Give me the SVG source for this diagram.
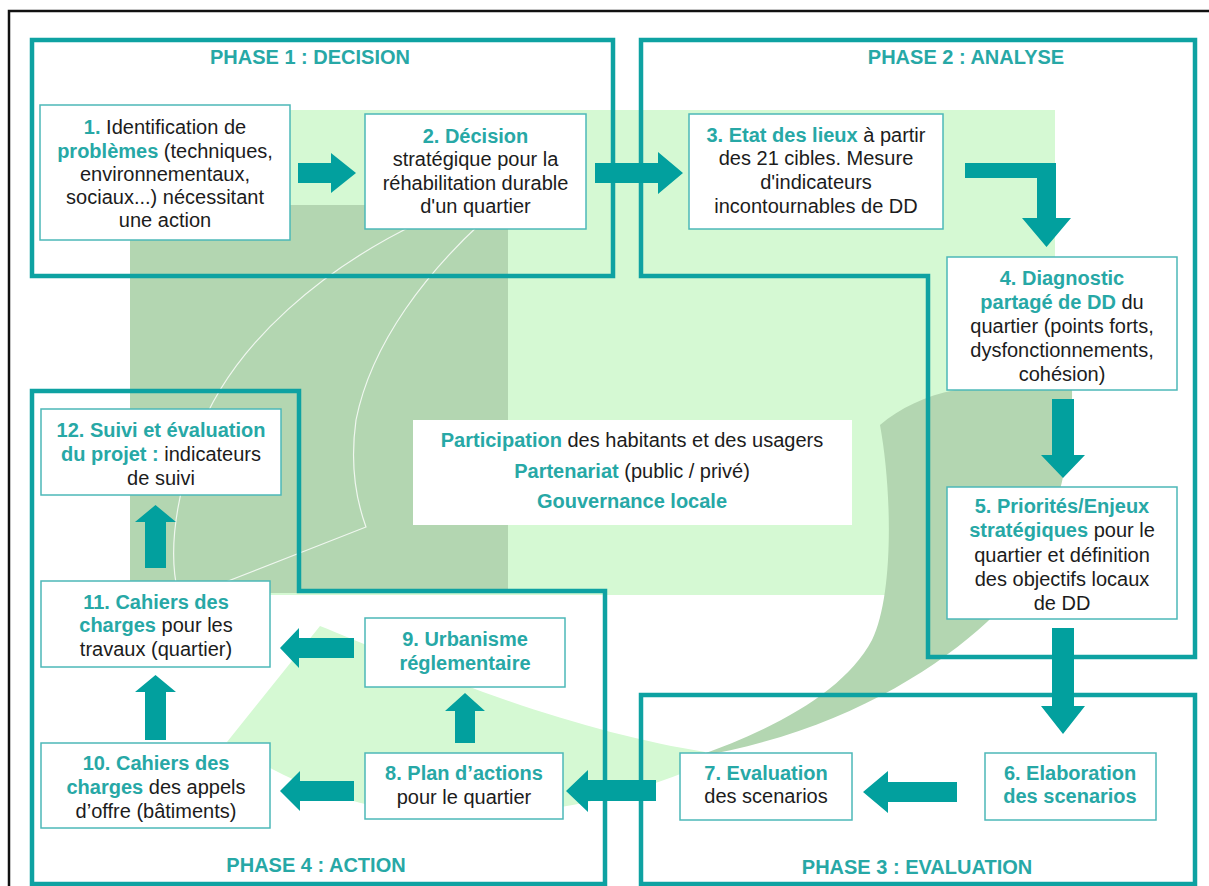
<svg xmlns="http://www.w3.org/2000/svg" width="1209" height="886" viewBox="0 0 1209 886">
<defs>
<style>
.ph{fill:none;stroke:#0ea2a2;stroke-width:4.5;stroke-linejoin:miter}
.bx{fill:#ffffff;stroke:#4cb8b8;stroke-width:1.5}
.t{font-family:"Liberation Sans",Arial,sans-serif;font-size:20px;fill:#1c1c1c;text-anchor:middle}
.b{font-weight:bold;fill:#27a8a6}
.ttl{font-family:"Liberation Sans",Arial,sans-serif;font-size:20px;font-weight:bold;fill:#27a8a6;text-anchor:middle}
.ar{fill:#02a09e}
.wl{fill:none;stroke:#ffffff;stroke-width:1.2;opacity:0.8}
</style>
</defs>
<rect width="1209" height="886" fill="#ffffff"/>
<g id="background">
<rect x="130" y="110" width="925" height="485" fill="#d5f9d3"/>
<rect x="130" y="205" width="378" height="388" fill="#b3d6b1"/>
<path class="wl" d="M 420 222 C 330 265 232 340 196 440 C 172 510 170 560 178 593"/>
<path class="wl" d="M 482 222 C 430 270 372 340 356 420 C 349 470 358 505 366 527 L 205 590"/>
<path d="M 320 626 C 360 642 420 668 483 692 C 560 720 640 742 705 752 L 705 764 C 640 792 560 814 470 816 C 380 816 300 792 227 742 Z" fill="#d5f9d3"/>
<path d="M 880 425 C 900 408 925 396 955 390 L 1072 388 C 1074 480 1040 575 987 622 C 930 675 830 735 695 757 C 780 727 845 690 872 640 C 894 595 892 490 880 425 Z" fill="#b3d6b1"/>
</g>
<g id="frame">
<path d="M 9 886 V 11 H 1209" fill="none" stroke="#111111" stroke-width="2.5"/>
</g>
<g id="phase-1">
<rect class="ph" x="32" y="40" width="581" height="236"/>
<text class="ttl" x="310" y="64">PHASE 1 : DECISION</text>
</g>
<g id="phase-2">
<path class="ph" d="M 641 40 H 1195 V 657 H 928 V 276 H 641 Z"/>
<text class="ttl" x="966" y="64">PHASE 2 : ANALYSE</text>
</g>
<g id="phase-3">
<rect class="ph" x="641" y="695" width="554" height="189"/>
<text class="ttl" x="917" y="874">PHASE 3 : EVALUATION</text>
</g>
<g id="phase-4">
<path class="ph" d="M 32 391 H 299 V 591 H 605 V 884 H 32 Z"/>
<text class="ttl" x="316" y="872">PHASE 4 : ACTION</text>
</g>
<g id="connectors">
<polygon class="ar" points="298,163 331,163 331,153 356,173 331,193 331,183 298,183"/>
<polygon class="ar" points="595,163 658,163 658,152 683,173 658,194 658,183 595,183"/>
<polygon class="ar" points="965,163 1056,163 1056,218 1071,218 1046.5,247 1022,218 1037,218 1037,178 965,178"/>
<polygon class="ar" points="1052,399 1074,399 1074,455 1085,455 1063,478 1041,455 1052,455"/>
<polygon class="ar" points="1052,628 1074,628 1074,706 1085,706 1063,734 1041,706 1052,706"/>
<polygon class="ar" points="957,782 888,782 888,771 863,792 888,813 888,802 957,802"/>
<polygon class="ar" points="656,780 588,780 588,770 566,791 588,812 588,801 656,801"/>
<polygon class="ar" points="455,743 475,743 475,711 485,711 465,693 445,711 455,711"/>
<polygon class="ar" points="354,781 300,781 300,771 280,791 300,811 300,801 354,801"/>
<polygon class="ar" points="354,638 299,638 299,628 280,648 299,668 299,658 354,658"/>
<polygon class="ar" points="145,740 166,740 166,692 176,692 155.5,675 135,692 145,692"/>
<polygon class="ar" points="145,568 166,568 166,522 176,522 155.5,505 135,522 145,522"/>
</g>
<g id="node-1">
<rect class="bx" x="40" y="105" width="250" height="135"/>
<text class="t" x="165" y="134"><tspan class="b">1.</tspan> Identification de</text>
<text class="t" x="165" y="158"><tspan class="b">problèmes</tspan> (techniques,</text>
<text class="t" x="165" y="181">environnementaux,</text>
<text class="t" x="165" y="204">sociaux...) nécessitant</text>
<text class="t" x="165" y="227">une action</text>
</g>
<g id="node-2">
<rect class="bx" x="365" y="114" width="221" height="115"/>
<text class="t" x="475.5" y="143"><tspan class="b">2. Décision</tspan></text>
<text class="t" x="475.5" y="166">stratégique pour la</text>
<text class="t" x="475.5" y="190">réhabilitation durable</text>
<text class="t" x="475.5" y="213">d'un quartier</text>
</g>
<g id="node-3">
<rect class="bx" x="689" y="114" width="254" height="115"/>
<text class="t" x="816" y="142"><tspan class="b">3. Etat des lieux</tspan> à partir</text>
<text class="t" x="816" y="165">des 21 cibles. Mesure</text>
<text class="t" x="816" y="189">d'indicateurs</text>
<text class="t" x="816" y="213">incontournables de DD</text>
</g>
<g id="node-4">
<rect class="bx" x="947" y="257" width="230" height="133"/>
<text class="t" x="1062" y="285"><tspan class="b">4. Diagnostic</tspan></text>
<text class="t" x="1062" y="309"><tspan class="b">partagé de DD</tspan> du</text>
<text class="t" x="1062" y="333">quartier (points forts,</text>
<text class="t" x="1062" y="357">dysfonctionnements,</text>
<text class="t" x="1062" y="381">cohésion)</text>
</g>
<g id="node-5">
<rect class="bx" x="947" y="487" width="230" height="132"/>
<text class="t" x="1062" y="513"><tspan class="b">5. Priorités/Enjeux</tspan></text>
<text class="t" x="1062" y="537"><tspan class="b">stratégiques</tspan> pour le</text>
<text class="t" x="1062" y="562">quartier et définition</text>
<text class="t" x="1062" y="586">des objectifs locaux</text>
<text class="t" x="1062" y="610">de DD</text>
</g>
<g id="node-6">
<rect class="bx" x="985" y="753" width="171" height="67"/>
<text class="t" x="1070" y="780"><tspan class="b">6. Elaboration</tspan></text>
<text class="t" x="1070" y="803"><tspan class="b">des scenarios</tspan></text>
</g>
<g id="node-7">
<rect class="bx" x="680" y="753" width="172" height="67"/>
<text class="t" x="766" y="780"><tspan class="b">7. Evaluation</tspan></text>
<text class="t" x="766" y="803">des scenarios</text>
</g>
<g id="node-8">
<rect class="bx" x="365" y="753" width="198" height="66"/>
<text class="t" x="464" y="780"><tspan class="b">8. Plan d’actions</tspan></text>
<text class="t" x="464" y="804">pour le quartier</text>
</g>
<g id="node-9">
<rect class="bx" x="365" y="618" width="200" height="69"/>
<text class="t" x="465" y="646"><tspan class="b">9. Urbanisme</tspan></text>
<text class="t" x="465" y="670"><tspan class="b">réglementaire</tspan></text>
</g>
<g id="node-10">
<rect class="bx" x="41" y="743" width="229" height="85"/>
<text class="t" x="156" y="770"><tspan class="b">10. Cahiers des</tspan></text>
<text class="t" x="156" y="794"><tspan class="b">charges</tspan> des appels</text>
<text class="t" x="156" y="818">d’offre (bâtiments)</text>
</g>
<g id="node-11">
<rect class="bx" x="41" y="581" width="229" height="86"/>
<text class="t" x="156" y="609"><tspan class="b">11. Cahiers des</tspan></text>
<text class="t" x="156" y="632"><tspan class="b">charges</tspan> pour les</text>
<text class="t" x="156" y="656">travaux (quartier)</text>
</g>
<g id="node-12">
<rect class="bx" x="41" y="409" width="240" height="86"/>
<text class="t" x="161" y="437"><tspan class="b">12. Suivi et évaluation</tspan></text>
<text class="t" x="161" y="461"><tspan class="b">du projet :</tspan> indicateurs</text>
<text class="t" x="161" y="485">de suivi</text>
</g>
<g id="node-center">
<rect x="413" y="420" width="439" height="105" fill="#ffffff"/>
<text class="t" x="632" y="447"><tspan class="b">Participation</tspan> des habitants et des usagers</text>
<text class="t" x="632" y="478"><tspan class="b">Partenariat</tspan> (public / privé)</text>
<text class="t" x="632" y="508"><tspan class="b">Gouvernance locale</tspan></text>
</g>
</svg>
